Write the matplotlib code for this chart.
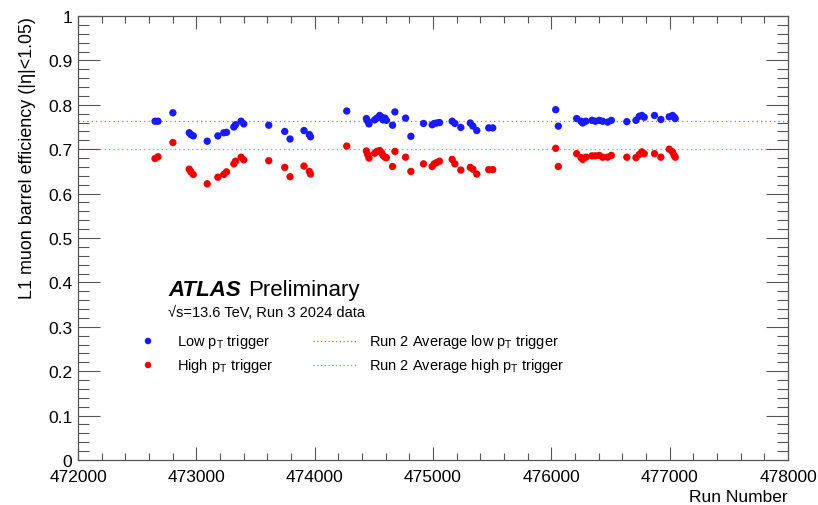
import matplotlib
matplotlib.use("Agg")
import matplotlib.pyplot as plt
from matplotlib.ticker import MultipleLocator

plt.rcParams["font.family"] = ["Liberation Sans", "DejaVu Sans"]
plt.rcParams["mathtext.fontset"] = "custom"
plt.rcParams["mathtext.rm"] = "Liberation Sans"
plt.rcParams["mathtext.it"] = "Liberation Sans:italic"

# run numbers and efficiencies
runs = [472651, 472676, 472802, 472940, 472954, 472974, 473092, 473182, 473232, 473255,
        473317, 473331, 473378, 473401, 473612, 473747, 473792, 473910, 473955, 473965,
        474271, 474437, 474448, 474459, 474507, 474526, 474549, 474566, 474577, 474594,
        474606, 474658, 474678, 474768, 474813, 474920, 474993, 475010, 475032, 475055,
        475162, 475185, 475235, 475315, 475337, 475370, 475471, 475505, 476037, 476059,
        476214, 476251, 476265, 476292, 476344, 476372, 476405, 476433, 476476, 476507,
        476638, 476715, 476743, 476765, 476785, 476872, 476926, 476996, 477024, 477038,
        477047]
eff_low = [0.763, 0.763, 0.782, 0.737, 0.733, 0.730, 0.718, 0.730, 0.737, 0.738,
           0.750, 0.755, 0.763, 0.757, 0.754, 0.740, 0.723, 0.742, 0.733, 0.728,
           0.786, 0.769, 0.763, 0.757, 0.766, 0.770, 0.776, 0.772, 0.766, 0.770,
           0.765, 0.754, 0.784, 0.770, 0.729, 0.758, 0.755, 0.758, 0.759, 0.760,
           0.763, 0.758, 0.749, 0.759, 0.752, 0.742, 0.748, 0.748, 0.789, 0.752,
           0.769, 0.763, 0.759, 0.763, 0.765, 0.763, 0.765, 0.763, 0.761, 0.765,
           0.762, 0.765, 0.774, 0.776, 0.772, 0.776, 0.767, 0.773, 0.776, 0.772,
           0.769]
eff_high = [0.679, 0.683, 0.715, 0.655, 0.649, 0.643, 0.622, 0.637, 0.643, 0.649,
            0.667, 0.673, 0.682, 0.676, 0.674, 0.659, 0.638, 0.662, 0.650, 0.644,
            0.707, 0.696, 0.688, 0.680, 0.691, 0.695, 0.697, 0.692, 0.686, 0.682,
            0.681, 0.661, 0.695, 0.682, 0.650, 0.667, 0.661, 0.667, 0.670, 0.673,
            0.677, 0.667, 0.653, 0.659, 0.655, 0.644, 0.654, 0.654, 0.702, 0.661,
            0.690, 0.681, 0.677, 0.682, 0.685, 0.685, 0.686, 0.682, 0.682, 0.686,
            0.682, 0.681, 0.688, 0.694, 0.690, 0.690, 0.682, 0.700, 0.694, 0.686,
            0.682]
run2_low = 0.763
run2_high = 0.700
xticks = [472000, 473000, 474000, 475000, 476000, 477000, 478000]
yticks = [0, 0.1, 0.2, 0.3, 0.4, 0.5, 0.6, 0.7, 0.8, 0.9, 1.0]
ylabels = ["0", "0.1", "0.2", "0.3", "0.4", "0.5", "0.6", "0.7", "0.8", "0.9", "1"]

L, R, T, B = 78, 788, 17, 461
fig = plt.figure(figsize=(8.18, 5.06), dpi=100)
ax = fig.add_axes([L / 818, 1 - B / 506, (R - L) / 818, (B - T) / 506])

blue, red = "#1a1aff", "#ee0000"
ax.axhline(run2_low, color="#7a7aff", lw=0.9, ls=(0, (1, 2.5)), zorder=1)
ax.axhline(run2_high, color="#ff7a7a", lw=0.9, ls=(0, (1, 2.5)), zorder=1)
ax.scatter(runs, eff_low, s=28, color=blue, edgecolors="none", zorder=3)
ax.scatter(runs, eff_high, s=28, color=red, edgecolors="none", zorder=3)

ax.set_xlim(472000, 478000)
ax.set_ylim(0, 1)
ax.set_xticks(xticks)
ax.set_xticklabels([str(v) for v in xticks])
ax.set_yticks(yticks)
ax.set_yticklabels(ylabels)
ax.xaxis.set_minor_locator(MultipleLocator(200))
ax.yaxis.set_minor_locator(MultipleLocator(0.02))
ax.tick_params(which="both", direction="in", top=True, right=True, color="#555555",
               labelsize=12.5, width=0.8)
ax.tick_params(axis="y", which="major", length=16, pad=4)
ax.tick_params(axis="y", which="minor", length=8)
ax.tick_params(axis="x", which="major", length=9.5, pad=6.5)
ax.tick_params(axis="x", which="minor", length=5)
for s in ax.spines.values():
    s.set_color("#555555")
    s.set_linewidth(0.9)

ax.set_ylabel("L1 muon barrel efficiency (|η|<1.05)", fontsize=12.9, loc="top", labelpad=9)
ax.set_xlabel("Run Number", fontsize=12.5, loc="right", labelpad=3.5)

ax.text(0.127, 0.372, "ATLAS", transform=ax.transAxes, fontsize=16,
        fontweight="bold", fontstyle="italic")
ax.text(0.239, 0.372, "Preliminary", transform=ax.transAxes, fontsize=16)
ax.text(0.127, 0.325, "√s=13.6 TeV, Run 3 2024 data", transform=ax.transAxes, fontsize=10.5)

# legend drawn by hand in ROOT style
fx = lambda px: 472000 + (px - L) / (R - L) * 6000
fy = lambda py: (B - py) / (B - T)
ax.scatter([fx(148)], [fy(342)], s=22, color=blue, edgecolors="none", clip_on=False)
ax.scatter([fx(148)], [fy(366)], s=22, color=red, edgecolors="none", clip_on=False)
ax.text(fx(177), fy(342), "Low p$_{\\rm T}$ trigger", fontsize=10.5, va="center")
ax.text(fx(177), fy(366), "High p$_{\\rm T}$ trigger", fontsize=10.5, va="center")
ax.plot([fx(313), fx(358)], [fy(342)] * 2, color="#7a7aff", lw=0.9, ls=(0, (1, 2)))
ax.plot([fx(313), fx(358)], [fy(366)] * 2, color="#ff7a7a", lw=0.9, ls=(0, (1, 2)))
ax.text(fx(369), fy(342), "Run 2 Average low p$_{\\rm T}$ trigger", fontsize=10.5, va="center")
ax.text(fx(369), fy(366), "Run 2 Average high p$_{\\rm T}$ trigger", fontsize=10.5, va="center")

fig.savefig("out.png", dpi=100)
